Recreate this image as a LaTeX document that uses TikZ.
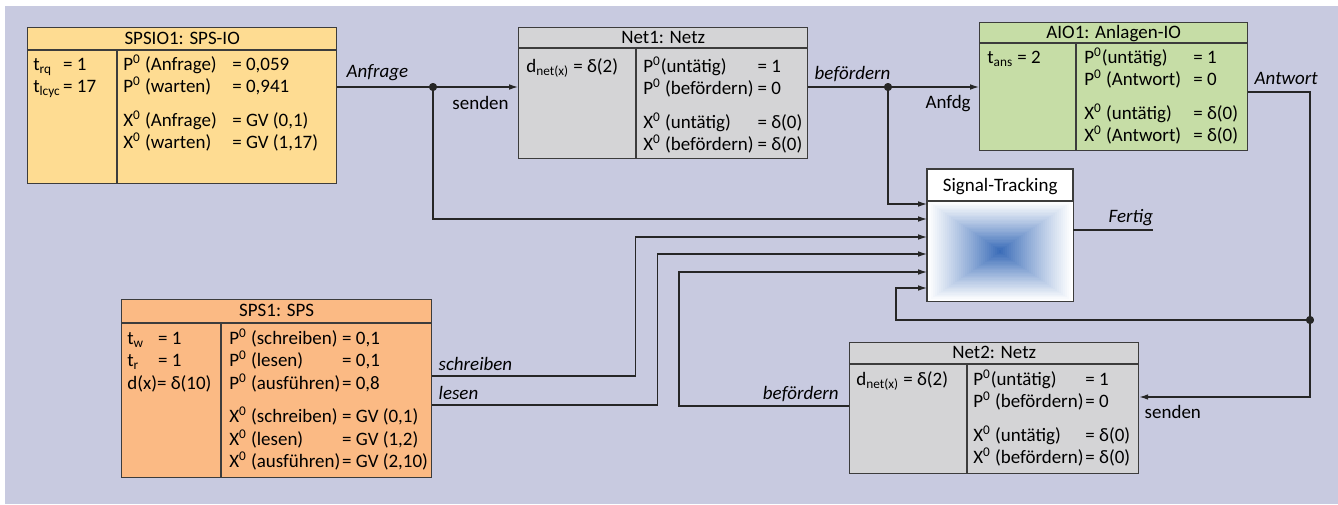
\documentclass[tikz,border=0pt]{standalone}
\usepackage{fontspec}
\setmainfont{Carlito}
\usetikzlibrary{positioning,calc,arrows.meta}
\definecolor{bgblue}{RGB}{200,202,224}
\definecolor{ioyellow}{RGB}{254,220,146}
\definecolor{netgray}{RGB}{212,212,214}
\definecolor{aiogreen}{RGB}{198,221,166}
\definecolor{spsorange}{RGB}{251,186,132}
\definecolor{stblue}{RGB}{58,108,184}
\definecolor{edgegray}{RGB}{60,60,60}
\newcommand\lw[2]{\makebox[#1][l]{#2}}
\tikzset{
  block/.style={draw=edgegray, line width=0.8pt, anchor=north west, inner sep=0pt},
  rule/.style={draw=edgegray, line width=0.8pt},
  cell/.style={anchor=base west, inner sep=0pt, font=\fontsize{10.8}{12.75}\selectfont},
  title/.style={anchor=base, inner sep=0pt, font=\fontsize{10.8}{12}\selectfont},
  lbl/.style={inner sep=0pt, font=\fontsize{10.8}{12}\selectfont},
  wire/.style={line width=0.7pt, draw=black!85},
  sig/.style={wire, -{Latex[length=5pt,width=3.2pt]}},
  dot/.style={circle, fill=black!85, inner sep=0pt, minimum size=4.5pt},
}
\begin{document}
\begin{tikzpicture}[x=0.02cm, y=-0.02cm]
  \useasboundingbox (0,0) rectangle (1338,504);
  \fill[bgblue] (5,6) rectangle (1338,504);

  % SPSIO1
  \node[block, fill=ioyellow, minimum width=6.18cm, minimum height=3.12cm] (spsio) at (27,27) {};
  \node[title] (spsio-t) at ($(spsio.north)+(0,17)$) {SPSIO1: SPS-IO};
  \draw[rule] ($(spsio.north west)+(0,23)$) -- ($(spsio.north east)+(0,23)$)
    ($(spsio.north west)+(90,23)$) -- ($(spsio.south west)+(90,0)$);
  \node[cell] (spsio-l) at (33,70.5) {\begin{tabular}[t]{@{}l@{\hspace{1pt}}l@{}}
    \lw{16pt}{t\textsubscript{rq}} & = 1\\
    t\textsubscript{lcyc} & = 17
  \end{tabular}};
  \node[cell] (spsio-r) at (123,70.5) {\begin{tabular}[t]{@{}l@{\hspace{1pt}}l@{}}
    \lw{61pt}{P\textsuperscript{0} (Anfrage)} & = 0,059\\
    P\textsuperscript{0} (warten) & = 0,941\\[6.2pt]
    X\textsuperscript{0} (Anfrage) & = GV (0,1)\\
    X\textsuperscript{0} (warten) & = GV (1,17)
  \end{tabular}};

  % Net1
  \node[block, fill=netgray, minimum width=5.78cm, minimum height=2.62cm] (net1) at (518,27) {};
  \node[title] (net1-t) at ($(net1.north)+(0,16)$) {Net1: Netz};
  \draw[rule] ($(net1.north west)+(0,21)$) -- ($(net1.north east)+(0,21)$)
    ($(net1.north west)+(118,21)$) -- ($(net1.south west)+(118,0)$);
  \node[cell] (net1-l) at (526,72.5) {d\textsubscript{net(x)} = δ(2)};
  \node[cell] (net1-r) at (643,72.5) {\begin{tabular}[t]{@{}l@{\hspace{1pt}}l@{}}
    \lw{64pt}{P\textsuperscript{0}(untätig)} & = 1\\
    P\textsuperscript{0} (befördern) & = 0\\[6.2pt]
    X\textsuperscript{0} (untätig) & = δ(0)\\
    X\textsuperscript{0} (befördern) & = δ(0)
  \end{tabular}};

  % AIO1
  \node[block, fill=aiogreen, minimum width=5.36cm, minimum height=2.56cm] (aio) at (979,22) {};
  \node[title] (aio-t) at ($(aio.north)+(0,16)$) {AIO1: Anlagen-IO};
  \draw[rule] ($(aio.north west)+(0,21)$) -- ($(aio.north east)+(0,21)$)
    ($(aio.north west)+(97,21)$) -- ($(aio.south west)+(97,0)$);
  \node[cell] (aio-l) at (987,63.5) {t\textsubscript{ans} = 2};
  \node[cell] (aio-r) at (1084,63.5) {\begin{tabular}[t]{@{}l@{\hspace{1pt}}l@{}}
    \lw{61pt}{P\textsuperscript{0}(untätig)} & = 1\\
    P\textsuperscript{0} (Antwort) & = 0\\[6.2pt]
    X\textsuperscript{0} (untätig) & = δ(0)\\
    X\textsuperscript{0} (Antwort) & = δ(0)
  \end{tabular}};

  % Signal-Tracking
  \node[block, fill=white, minimum width=2.9cm, minimum height=2.62cm] (st) at (927,169) {};
  \foreach \i in {0,...,36}{
    \pgfmathsetmacro\c{100*(\i/36)^1.1}
    \fill[stblue!\c!white] ($(st.north west)+(\i*2,32+\i*1.35)$) rectangle ($(st.south east)-(\i*2,\i*1.35)$);
  }
  \draw[rule] (st.north west) rectangle (st.south east)
    ($(st.north west)+(0,32)$) -- ($(st.north east)+(0,32)$);
  \node[title] (st-t) at ($(st.north)+(0,22)$) {Signal-Tracking};
  \foreach \n/\d in {1/35,2/50,3/68,4/85,5/103,6/119}
    \coordinate (in\n) at ($(st.north west)+(0,\d)$);
  \coordinate (fout) at ($(st.north east)+(0,61)$);

  % SPS1
  \node[block, fill=spsorange, minimum width=6.2cm, minimum height=3.56cm] (sps) at (121,299) {};
  \node[title] (sps-t) at ($(sps.north)+(0,17.5)$) {SPS1: SPS};
  \draw[rule] ($(sps.north west)+(0,24)$) -- ($(sps.north east)+(0,24)$)
    ($(sps.north west)+(100,24)$) -- ($(sps.south west)+(100,0)$);
  \node[cell] (sps-l) at (127,344.5) {\begin{tabular}[t]{@{}l@{\hspace{1pt}}l@{}}
    \lw{16.5pt}{t\textsubscript{w}} & = 1\\
    t\textsubscript{r} & = 1\\
    \multicolumn{2}{@{}l@{}}{d(x)= δ(10)}
  \end{tabular}};
  \node[cell] (sps-r) at (229,344.5) {\begin{tabular}[t]{@{}l@{\hspace{1pt}}l@{}}
    \lw{61pt}{P\textsuperscript{0} (schreiben)} & = 0,1\\
    P\textsuperscript{0} (lesen) & = 0,1\\
    P\textsuperscript{0} (ausführen) & = 0,8\\[6.2pt]
    X\textsuperscript{0} (schreiben) & = GV (0,1)\\
    X\textsuperscript{0} (lesen) & = GV (1,2)\\
    X\textsuperscript{0} (ausführen) & = GV (2,10)
  \end{tabular}};
  \coordinate (o1) at ($(sps.north east)+(0,77)$);
  \coordinate (o2) at ($(sps.north east)+(0,106)$);

  % Net2
  \node[block, fill=netgray, minimum width=5.78cm, minimum height=2.62cm] (net2) at (849,342) {};
  \node[title] (net2-t) at ($(net2.north)+(0,16.5)$) {Net2: Netz};
  \draw[rule] ($(net2.north west)+(0,22)$) -- ($(net2.north east)+(0,22)$)
    ($(net2.north west)+(118,22)$) -- ($(net2.south west)+(118,0)$);
  \node[cell] (net2-l) at (856,385.5) {d\textsubscript{net(x)} = δ(2)};
  \node[cell] (net2-r) at (973,385.5) {\begin{tabular}[t]{@{}l@{\hspace{1pt}}l@{}}
    \lw{60pt}{P\textsuperscript{0}(untätig)} & = 1\\
    P\textsuperscript{0} (befördern) & = 0\\[6.2pt]
    X\textsuperscript{0} (untätig) & = δ(0)\\
    X\textsuperscript{0} (befördern) & = δ(0)
  \end{tabular}};
  \coordinate (n2out) at ($(net2.north west)+(0,64)$);
  \coordinate (n2in) at ($(net2.north east)+(0,55)$);
  \coordinate (aout) at ($(aio.north east)+(0,70)$);

  % junctions
  \node[dot] (j1) at (433,87) {};
  \node[dot] (j2) at (888,87) {};
  \node[dot] (j3) at (1310,320) {};

  \draw[sig] (spsio.east |- j1) -- (j1.center) -- (net1.west |- j1);
  \draw[sig] (net1.east |- j2) -- (j2.center) -- (aio.west |- j2);
  \draw[sig] (j1.center) |- (in2);
  \draw[sig] (j2.center) |- (in1);
  \draw[sig] (o1) -- ++(203,0) |- (in3);
  \draw[sig] (o2) -- ++(225,0) |- (in4);
  \draw[sig] (n2out) -- ++(-170,0) |- (in5);
  \draw[sig] (aout) -| (j3.center) |- (n2in);
  \draw[sig] (j3.center) -- ++(-414,0) |- (in6);
  \draw[wire] (fout) -- ++(80,0);
  \node[dot] at (j1) {};
  \node[dot] at (j2) {};
  \node[dot] at (j3) {};

  \node[lbl, anchor=base west] (l-anfrage) at ($(spsio.east |- j1)+(9,-9.5)$) {\itshape Anfrage};
  \node[lbl, anchor=base east] (l-senden1) at ($(net1.west |- j1)+(-9,22)$) {senden};
  \node[lbl, anchor=base west] (l-bef1) at ($(net1.east |- j2)+(6,-8)$) {\itshape befördern};
  \node[lbl, anchor=base east] (l-anfdg) at ($(aio.west |- j2)+(-8,21)$) {Anfdg};
  \node[lbl, anchor=base west] (l-antwort) at ($(aout)+(6,-8)$) {\itshape Antwort};
  \node[lbl, anchor=base east] (l-fertig) at ($(fout)+(80,-8)$) {\itshape Fertig};
  \node[lbl, anchor=base west] (l-schreiben) at ($(o1)+(6,-5.5)$) {\itshape schreiben};
  \node[lbl, anchor=base west] (l-lesen) at ($(o2)+(6,-6)$) {\itshape lesen};
  \node[lbl, anchor=base east] (l-bef2) at ($(n2out)+(-10,-7)$) {\itshape befördern};
  \node[lbl, anchor=base west] (l-senden2) at ($(n2in)+(5,21)$) {senden};
\end{tikzpicture}
\end{document}
